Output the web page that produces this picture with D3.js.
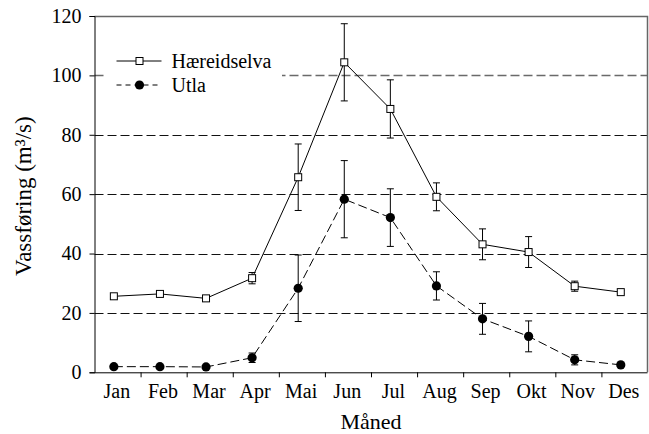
<!DOCTYPE html>
<html>
<head>
<meta charset="utf-8">
<script src="https://cdn.jsdelivr.net/npm/d3@7"></script>
<style>
  body { margin: 0; background: #fff; }
  text { font-family: "Liberation Serif", "Times New Roman", serif; fill: #000; }
</style>
</head>
<body>
<div id="chart"></div>
<script>
// data
let months = ['Jan', 'Feb', 'Mar', 'Apr', 'Mai', 'Jun', 'Jul', 'Aug', 'Sep', 'Okt', 'Nov', 'Des']
let haereidselva = [25.6, 26.4, 24.9, 31.7, 65.7, 104.4, 88.7, 59.1, 43.1, 40.5, 29.0, 27.0]
let haereidselvaErr = [0.6, 0.7, 0.7, 1.9, 11.2, 13.0, 9.8, 4.7, 5.2, 5.2, 1.7, 0.5]
let utla = [1.9, 1.9, 1.8, 4.9, 28.3, 58.3, 52.1, 29.1, 18.0, 12.1, 4.2, 2.5]
let utlaErr = [0.4, 0.3, 0.3, 1.6, 11.2, 13.0, 9.7, 4.75, 5.2, 5.2, 1.7, 0.4]
let yTicks = [0, 20, 40, 60, 80, 100, 120]
let gridValues = [20, 40, 60, 80, 100]

let W = 649, H = 434
let margin = {top: 16, right: 1.5, bottom: 61.7, left: 94.5}
let width = W - margin.left - margin.right
let height = H - margin.top - margin.bottom

d3.selectAll('svg').remove()

let svg = d3.select('div#chart')
  .append('svg')
    .attr('width', W)
    .attr('height', H)

let g = svg.append('g')
  .attr('transform', `translate(${margin.left}, ${margin.top})`)

// months sit between boundary ticks, a bit left of centre
let x = d3.scaleLinear().domain([0, 12]).range([0, width])
let monthX = i => x(i + 0.42)
let y = d3.scaleLinear().domain([0, 120]).range([height, 0])

// grid lines
g.append('g')
  .selectAll('line')
  .data(gridValues)
  .enter().append('line')
    .attr('x1', 0)
    .attr('x2', width)
    .attr('y1', d => Math.round(y(d)) + 0.5)
    .attr('y2', d => Math.round(y(d)) + 0.5)
    .attr('stroke', d => d === 100 ? '#6a6a6a' : '#111')
    .attr('stroke-width', d => d === 100 ? 1.6 : 1)
    .attr('stroke-dasharray', '9,4')

// frame top / right
g.append('path')
  .attr('d', `M0,0.5 H${width} V${height}`)
  .attr('fill', 'none')
  .attr('stroke', '#666')
  .attr('stroke-width', 1.5)

// axes
let yAxis = d3.axisLeft(y).tickValues(yTicks).tickSize(5).tickPadding(8)
let yg = g.append('g').call(yAxis)
yg.select('.domain').attr('stroke', '#000')
yg.selectAll('text')
  .style('font-family', '"Liberation Serif", serif')
  .style('font-size', '20px')

let xAxis = d3.axisBottom(x).tickValues(d3.range(1, 12)).tickSize(5).tickFormat('')
let xg = g.append('g')
  .attr('transform', `translate(0, ${height})`)
  .call(xAxis)
xg.select('.domain').attr('d', `M0,0.5H${width}`).attr('stroke', '#000')

g.append('g')
  .selectAll('text')
  .data(months)
  .enter().append('text')
    .attr('x', (d, i) => monthX(i) + 3)
    .attr('y', height + 26)
    .attr('text-anchor', 'middle')
    .style('font-size', '20px')
    .text(d => d)

// axis titles
svg.append('text')
  .attr('x', margin.left + width / 2)
  .attr('y', 429)
  .attr('text-anchor', 'middle')
  .style('font-size', '22px')
  .text('Måned')

svg.append('text')
  .attr('transform', `translate(31, ${margin.top + height / 2 + 2}) rotate(-90)`)
  .attr('text-anchor', 'middle')
  .style('font-size', '23px')
  .text('Vassføring (m³/s)')

// legend box covers the grid
let legend = g.append('g')
legend.append('rect')
  .attr('x', 10.5)
  .attr('y', 30)
  .attr('width', 177)
  .attr('height', 70)
  .attr('fill', '#fff')

let series = [
  {name: 'Hæreidselva', values: haereidselva, err: haereidselvaErr, dash: null, marker: 'square'},
  {name: 'Utla', values: utla, err: utlaErr, dash: '9,4', marker: 'circle'}
]

let line = d3.line()
  .x((d, i) => monthX(i))
  .y(d => y(d))

series.forEach((s, k) => {
  let sg = g.append('g')

  sg.append('path')
    .datum(s.values)
    .attr('d', line)
    .attr('fill', 'none')
    .attr('stroke', '#000')
    .attr('stroke-width', 1)
    .attr('stroke-dasharray', s.dash)

  // error bars
  let eb = sg.selectAll('g.err')
    .data(s.values)
    .enter().append('g')
      .attr('class', 'err')
  eb.append('line')
    .attr('x1', (d, i) => monthX(i))
    .attr('x2', (d, i) => monthX(i))
    .attr('y1', (d, i) => y(d + s.err[i]))
    .attr('y2', (d, i) => y(d - s.err[i]))
    .attr('stroke', '#000')
  ;[1, -1].forEach(sign => {
    eb.append('line')
      .attr('x1', (d, i) => monthX(i) - 3.5)
      .attr('x2', (d, i) => monthX(i) + 3.5)
      .attr('y1', (d, i) => y(d + sign * s.err[i]))
      .attr('y2', (d, i) => y(d + sign * s.err[i]))
      .attr('stroke', '#000')
  })

  // markers
  if (s.marker === 'square') {
    sg.selectAll('rect')
      .data(s.values)
      .enter().append('rect')
        .attr('x', (d, i) => monthX(i) - 3.5)
        .attr('y', d => y(d) - 3.5)
        .attr('width', 7)
        .attr('height', 7)
        .attr('fill', '#fff')
        .attr('stroke', '#000')
  } else {
    sg.selectAll('circle')
      .data(s.values)
      .enter().append('circle')
        .attr('cx', (d, i) => monthX(i))
        .attr('cy', d => y(d))
        .attr('r', 4.6)
        .attr('fill', '#000')
  }

  // legend entry
  let ly = 45 + k * 24
  legend.append('line')
    .attr('x1', 22)
    .attr('x2', 67)
    .attr('y1', ly)
    .attr('y2', ly)
    .attr('stroke', '#000')
    .attr('stroke-dasharray', s.dash ? '5,4' : null)
  if (s.marker === 'square') {
    legend.append('rect')
      .attr('x', 41.5)
      .attr('y', ly - 3.5)
      .attr('width', 7)
      .attr('height', 7)
      .attr('fill', '#fff')
      .attr('stroke', '#000')
  } else {
    legend.append('circle')
      .attr('cx', 45)
      .attr('cy', ly)
      .attr('r', 4.6)
      .attr('fill', '#000')
  }
  legend.append('text')
    .attr('x', 77)
    .attr('y', ly + 7)
    .style('font-size', '20px')
    .text(s.name)
})
</script>
</body>
</html>
